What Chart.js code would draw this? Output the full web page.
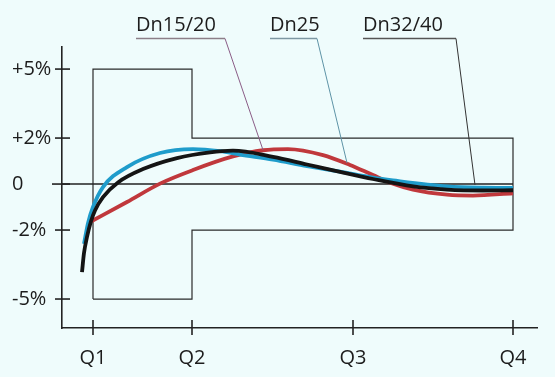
<!DOCTYPE html>
<html>
<head>
<meta charset="utf-8">
<script src="https://cdn.jsdelivr.net/npm/chart.js@4.4.1/dist/chart.umd.min.js"></script>
<style>
  html, body { margin: 0; padding: 0; background: #effcfc; }
  #wrap { width: 555px; height: 377px; }
</style>
</head>
<body>
<div id="wrap"><canvas id="chart"></canvas></div>
<script>
// axis ticks
var qLabels = ['Q1', 'Q2', 'Q3', 'Q4'];
var qValues = [1, 1.99, 3.6, 5.2];
var yTicks = [5, 2, 0, -2, -5];
var yTickLabels = ['+5%', '+2%', '0', '-2%', '-5%'];

// tolerance band: Q1..Q2 is +-5 %, Q2..Q4 is +-2 %
var tolWide = 5;
var tolNarrow = 2;

// measured curves (x = flow position, y = error in %)
var dn32X = [0.89, 0.91, 0.94, 0.98, 1.02, 1.10, 1.25, 1.50, 1.84, 2.17, 2.40, 2.80, 3.14, 3.47, 3.80, 4.20, 4.54, 4.90, 5.20];
var dn32Y = [-3.83, -3.00, -2.30, -1.62, -1.15, -0.57, 0.07, 0.65, 1.13, 1.38, 1.45, 1.18, 0.85, 0.53, 0.22, -0.10, -0.24, -0.28, -0.27];

var dn25X = [0.91, 0.95, 1.00, 1.10, 1.34, 1.67, 2.00, 2.27, 2.47, 2.80, 3.14, 3.47, 3.80, 4.00, 4.54, 4.90, 5.20];
var dn25Y = [-2.60, -1.70, -1.00, -0.13, 0.74, 1.35, 1.52, 1.43, 1.28, 1.06, 0.78, 0.54, 0.28, 0.16, -0.10, -0.16, -0.17];

var dn15X = [0.97, 1.34, 1.67, 2.00, 2.40, 2.70, 2.95, 3.30, 3.57, 3.80, 4.00, 4.20, 4.54, 4.80, 5.20];
var dn15Y = [-1.65, -0.78, 0.02, 0.61, 1.20, 1.47, 1.52, 1.26, 0.83, 0.39, 0.02, -0.24, -0.46, -0.50, -0.40];

// series labels and where their leader lines point to
var leaderNames = ['Dn15/20', 'Dn25', 'Dn32/40'];
var leaderTargetX = [2.70, 3.54, 4.82];
var leaderTargetY = [1.48, 0.92, -0.04];

var xMin = 0.69, xMax = 5.44;
var yMin = -6.26, yMax = 5.96;

function pts(xs, ys) {
  return xs.map(function(x, i) { return { x: x, y: ys[i] }; });
}

var boxX = [qValues[0], qValues[0], qValues[1], qValues[1], qValues[3], qValues[3], qValues[1], qValues[1], qValues[0]];
var boxY = [-tolWide, tolWide, tolWide, tolNarrow, tolNarrow, -tolNarrow, -tolNarrow, -tolWide, -tolWide];

Chart.defaults.font.family = "'Open Sans', sans-serif";
Chart.defaults.color = '#1c1c1c';

var overlay = {
  id: 'overlay',
  afterDraw: function(chart) {
    var ctx = chart.ctx;
    var xs = chart.scales.x, ys = chart.scales.y;
    ctx.save();
    ctx.strokeStyle = '#222';
    ctx.lineWidth = 1.6;
    yTicks.forEach(function(v) {
      var py = ys.getPixelForValue(v);
      ctx.beginPath();
      ctx.moveTo(xs.left - (v === 0 ? 10 : 7), py);
      ctx.lineTo(xs.left + 8, py);
      ctx.stroke();
    });
    qValues.forEach(function(v) {
      var px = xs.getPixelForValue(v);
      ctx.beginPath();
      ctx.moveTo(px, ys.bottom - 8);
      ctx.lineTo(px, ys.bottom + 7);
      ctx.stroke();
    });

    // labels with underline + leader
    var textLeft = [136, 270, 363];
    var lineEnd = [225, 317, 456];
    var underColors = ['#8c7f88', '#7d97a2', '#555555'];
    var leadColors = ['#8a5c86', '#5e93a6', '#333333'];
    ctx.font = "20px 'Open Sans', sans-serif";
    ctx.textBaseline = 'middle';
    ctx.textAlign = 'left';
    leaderNames.forEach(function(name, i) {
      ctx.fillStyle = '#1c1c1c';
      ctx.fillText(name, textLeft[i], 25);
      ctx.lineWidth = 1.3;
      ctx.strokeStyle = underColors[i];
      ctx.beginPath();
      ctx.moveTo(textLeft[i], 38.5);
      ctx.lineTo(lineEnd[i], 38.5);
      ctx.stroke();
      ctx.lineWidth = 1;
      ctx.strokeStyle = leadColors[i];
      ctx.beginPath();
      ctx.moveTo(lineEnd[i], 38.5);
      ctx.lineTo(xs.getPixelForValue(leaderTargetX[i]), ys.getPixelForValue(leaderTargetY[i]));
      ctx.stroke();
    });
    ctx.restore();
  }
};

new Chart(document.getElementById('chart'), {
  type: 'scatter',
  data: {
    datasets: [
      { label: 'Dn32/40', data: pts(dn32X, dn32Y), showLine: true, borderColor: '#141414', borderWidth: 3.8, pointRadius: 0, cubicInterpolationMode: 'monotone' },
      { label: 'Dn25', data: pts(dn25X, dn25Y), showLine: true, borderColor: '#1f9ccb', borderWidth: 3.8, pointRadius: 0, cubicInterpolationMode: 'monotone' },
      { label: 'Dn15/20', data: pts(dn15X, dn15Y), showLine: true, borderColor: '#c0383c', borderWidth: 3.8, pointRadius: 0, cubicInterpolationMode: 'monotone' },
      { label: 'zero', data: [{ x: xMin, y: 0 }, { x: qValues[3], y: 0 }], showLine: true, borderColor: '#222', borderWidth: 1.6, pointRadius: 0, tension: 0 },
      { label: 'tolerance', data: pts(boxX, boxY), showLine: true, borderColor: '#2a2a2a', borderWidth: 1.2, pointRadius: 0, tension: 0 }
    ]
  },
  options: {
    responsive: true,
    maintainAspectRatio: false,
    animation: false,
    layout: { padding: { left: 12, right: 18, top: 47, bottom: 0 } },
    plugins: { legend: { display: false }, tooltip: { enabled: false } },
    scales: {
      x: {
        type: 'linear',
        min: xMin, max: xMax,
        grid: { display: false, drawTicks: false },
        border: { color: '#222', width: 1.6 },
        afterBuildTicks: function(scale) {
          scale.ticks = qValues.map(function(v) { return { value: v }; });
        },
        afterFit: function(scale) { scale.height = 49; },
        ticks: {
          autoSkip: false, maxRotation: 0, padding: 18,
          font: { size: 20 },
          callback: function(v, i) { return qLabels[i]; }
        }
      },
      y: {
        type: 'linear',
        min: yMin, max: yMax,
        grid: { display: false, drawTicks: false },
        border: { color: '#222', width: 1.6 },
        afterBuildTicks: function(scale) {
          scale.ticks = yTicks.map(function(v) { return { value: v }; });
        },
        afterFit: function(scale) { scale.width = 50; },
        ticks: {
          autoSkip: false, crossAlign: 'far', padding: 10,
          font: { size: 20 },
          callback: function(v, i) { return yTickLabels[i]; }
        }
      }
    }
  },
  plugins: [overlay]
});
</script>
</body>
</html>
